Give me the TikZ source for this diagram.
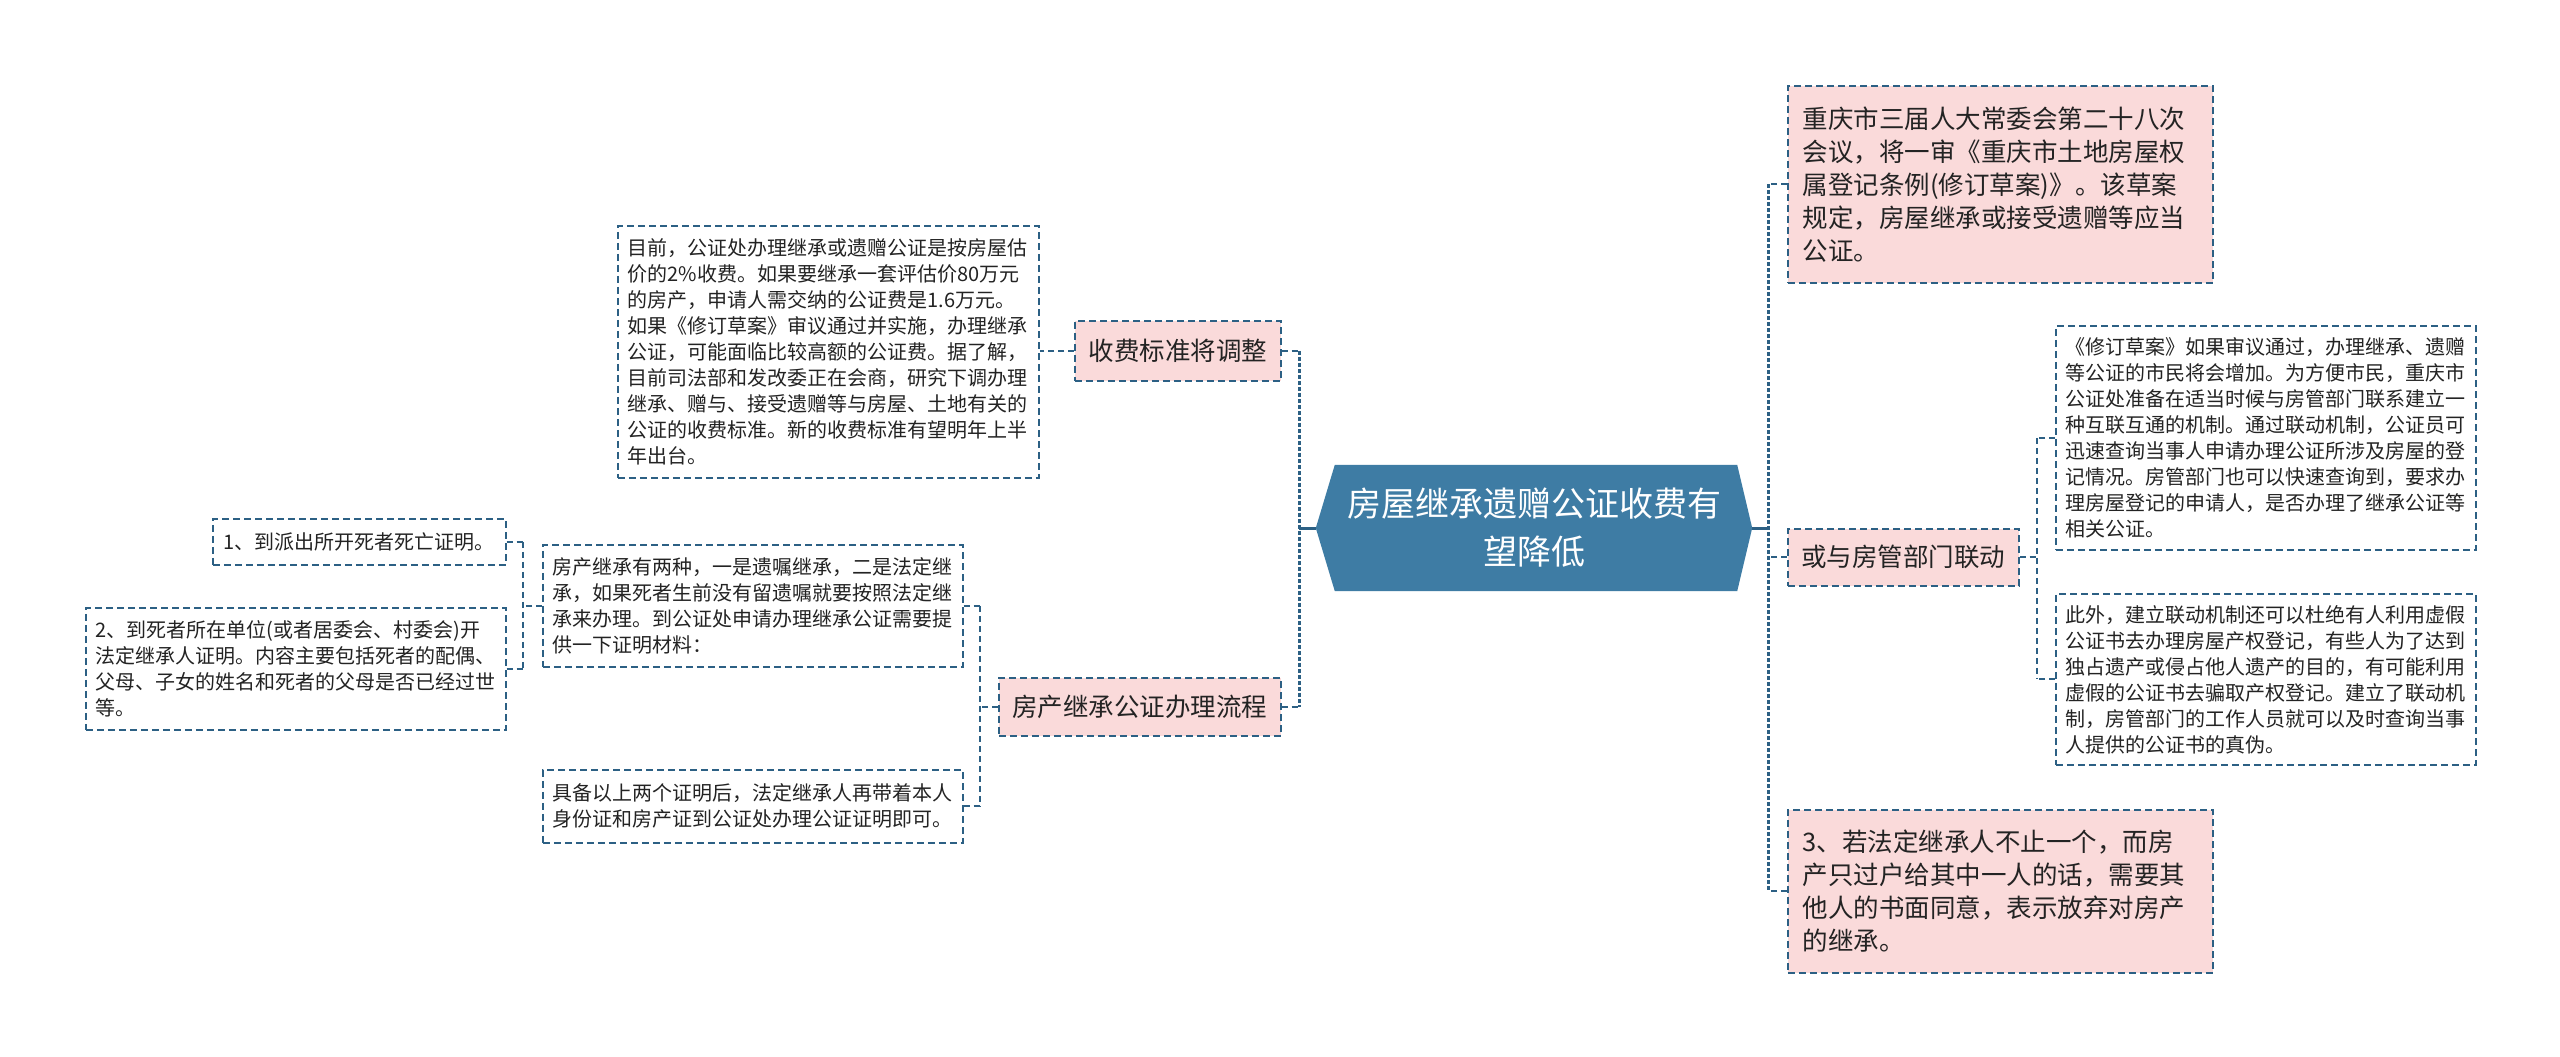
\documentclass[tikz,border=0pt]{standalone}
\usepackage{fontspec}
\newfontfamily\cjk{Noto Sans CJK SC}
\usetikzlibrary{backgrounds}
\definecolor{linec}{RGB}{44,96,132}
\definecolor{pinkc}{RGB}{250,218,218}
\definecolor{hexc}{RGB}{62,124,164}
\definecolor{txtc}{RGB}{35,35,35}
\begin{document}
\begin{tikzpicture}[x=1pt,y=-1pt,
  box/.style={draw=linec, line width=1.6pt, dash pattern=on 7pt off 4pt, anchor=north west, inner xsep=10pt, inner ysep=0pt, align=left, text=txtc},
  small/.style={box, font=\cjk\fontsize{20}{26}\selectfont},
  big/.style={box, fill=pinkc, font=\cjk\fontsize{25.5}{33}\selectfont},
  conn/.style={draw=linec, line width=1.8pt, dash pattern=on 6pt off 4pt},
  trunk/.style={draw=linec, line width=3pt, dash pattern=on 4pt off 2pt},
  solidc/.style={draw=linec, line width=3pt}]
\useasboundingbox (0,0) rectangle (2560,1057);

% central node
\node[font=\cjk\fontsize{34}{48}\selectfont, text=white, align=center, minimum width=436pt, minimum height=126pt, inner sep=0pt] (root) at (1534,528) {房屋继承遗赠公证收费有\\望降低};

% left branch
\node[big, minimum width=206pt, minimum height=60pt, align=center] (sf) at (1074,320) {收费标准将调整};
\node[small, text width=401pt, minimum height=252pt] (fee) at (617,225) {目前，公证处办理继承或遗赠公证是按房屋估\\价的2\%收费。如果要继承一套评估价80万元\\的房产，申请人需交纳的公证费是1.6万元。\\如果《修订草案》审议通过并实施，办理继承\\公证，可能面临比较高额的公证费。据了解，\\目前司法部和发改委正在会商，研究下调办理\\继承、赠与、接受遗赠等与房屋、土地有关的\\公证的收费标准。新的收费标准有望明年上半\\年出台。};
\node[big, minimum width=282pt, minimum height=58pt, align=center] (lc) at (998,677) {房产继承公证办理流程};
\node[small, text width=400pt, minimum height=122pt] (lz) at (542,544) {房产继承有两种，一是遗嘱继承，二是法定继\\承，如果死者生前没有留遗嘱就要按照法定继\\承来办理。到公证处申请办理继承公证需要提\\供一下证明材料：};
\node[small, text width=400pt, minimum height=73pt] (jb) at (542,769) {具备以上两个证明后，法定继承人再带着本人\\身份证和房产证到公证处办理公证证明即可。};
\node[small, minimum width=293pt, minimum height=46pt] (z1) at (212,518) {1、到派出所开死者死亡证明。};
\node[small, text width=400pt, minimum height=122pt] (z2) at (85,607) {2、到死者所在单位(或者居委会、村委会)开\\法定继承人证明。内容主要包括死者的配偶、\\父母、子女的姓名和死者的父母是否已经过世\\等。};

% right branch
\node[big, text width=395pt, inner xsep=15pt, minimum height=197pt] (cq) at (1787,85) {重庆市三届人大常委会第二十八次\\会议，将一审《重庆市土地房屋权\\属登记条例(修订草案)》。该草案\\规定，房屋继承或接受遗赠等应当\\公证。};
\node[big, minimum width=231pt, minimum height=57pt, align=center] (ly) at (1787,528) {或与房管部门联动};
\node[small, text width=400pt, minimum height=224pt] (xd) at (2055,325) {《修订草案》如果审议通过，办理继承、遗赠\\等公证的市民将会增加。为方便市民，重庆市\\公证处准备在适当时候与房管部门联系建立一\\种互联互通的机制。通过联动机制，公证员可\\迅速查询当事人申请办理公证所涉及房屋的登\\记情况。房管部门也可以快速查询到，要求办\\理房屋登记的申请人，是否办理了继承公证等\\相关公证。};
\node[small, text width=400pt, minimum height=171pt] (cw) at (2055,593) {此外，建立联动机制还可以杜绝有人利用虚假\\公证书去办理房屋产权登记，有些人为了达到\\独占遗产或侵占他人遗产的目的，有可能利用\\虚假的公证书去骗取产权登记。建立了联动机\\制，房管部门的工作人员就可以及时查询当事\\人提供的公证书的真伪。};
\node[big, text width=395pt, inner xsep=15pt, minimum height=163pt] (s3) at (1787,809) {3、若法定继承人不止一个，而房\\产只过户给其中一人的话，需要其\\他人的书面同意，表示放弃对房产\\的继承。};

% trunk coordinates
\coordinate (tL) at (1299,528);
\coordinate (tR) at (1768,528);
\coordinate (tLC) at (980,706);
\coordinate (tLZ) at (523,605);
\coordinate (tLY) at (2037,556);

% left connectors
\draw[solidc] (root.west) -- (tL);
\draw[trunk] (sf.east -| tL) -- (lc.east -| tL);
\draw[conn] (sf.east) -- (sf.east -| tL);
\draw[conn] (lc.east) -- (lc.east -| tL);
\draw[conn] (sf.west) -- (sf.west -| fee.east);
\draw[conn] (lc.west) -- (lc.west -| tLC);
\draw[conn] (lz.east -| tLC) -- (jb.east -| tLC);
\draw[conn] (lz.east) -- (lz.east -| tLC);
\draw[conn] (jb.east) -- (jb.east -| tLC);
\draw[conn] (lz.west) -- (lz.west -| tLZ);
\draw[conn] (z1.east -| tLZ) -- (z2.east -| tLZ);
\draw[conn] (z1.east) -- (z1.east -| tLZ);
\draw[conn] (z2.east) -- (z2.east -| tLZ);

% right connectors
\draw[solidc] (root.east) -- (tR);
\draw[trunk] (cq.west -| tR) -- (s3.west -| tR);
\draw[conn] (cq.west) -- (cq.west -| tR);
\draw[conn] (ly.west) -- (ly.west -| tR);
\draw[conn] (s3.west) -- (s3.west -| tR);
\draw[conn] (ly.east) -- (ly.east -| tLY);
\draw[conn] (xd.west -| tLY) -- (cw.west -| tLY);
\draw[conn] (xd.west) -- (xd.west -| tLY);
\draw[conn] (cw.west) -- (cw.west -| tLY);

\begin{scope}[on background layer]
\fill[white] (0,0) rectangle (2560,1057);
\fill[hexc] (root.west) -- ([xshift=19pt]root.north west) -- ([xshift=-15pt]root.north east) -- (root.east) -- ([xshift=-15pt]root.south east) -- ([xshift=19pt]root.south west) -- cycle;
\end{scope}
\end{tikzpicture}
\end{document}
